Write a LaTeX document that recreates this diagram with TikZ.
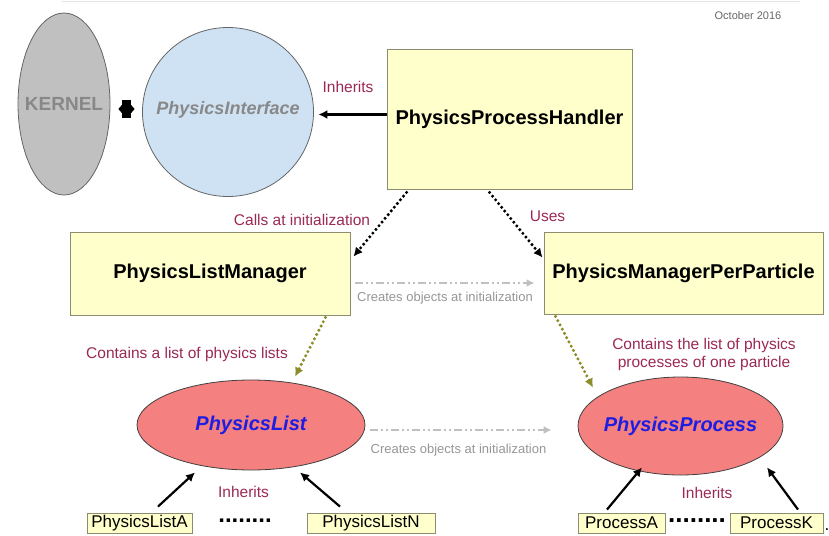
\documentclass[tikz,border=0pt]{standalone}
\usepackage{fontspec}
\setmainfont{Liberation Sans}
\usetikzlibrary{shapes.geometric,arrows.meta}

\definecolor{boxfill}{RGB}{255,255,204}
\definecolor{boxline}{RGB}{140,140,110}
\definecolor{kerfill}{RGB}{192,192,192}
\definecolor{kerline}{RGB}{100,100,100}
\definecolor{ifill}{RGB}{207,226,243}
\definecolor{redfill}{RGB}{244,128,128}
\definecolor{labred}{RGB}{155,40,85}
\definecolor{clsblue}{RGB}{30,30,225}
\definecolor{greytext}{RGB}{136,136,136}
\definecolor{createtext}{RGB}{150,150,150}
\definecolor{createline}{RGB}{192,192,192}
\definecolor{olive}{RGB}{140,140,40}

\newcommand{\fsz}[1]{\fontsize{#1}{#1}\selectfont}

\tikzset{
  classbox/.style={draw=boxline, fill=boxfill, line width=0.9pt, inner sep=0pt,
    font=\fsz{20}\bfseries},
  smallbox/.style={draw=boxline, fill=boxfill, line width=0.9pt, inner sep=0pt,
    minimum height=20pt, font=\fsz{17}},
  oval/.style={ellipse, line width=0.8pt, inner sep=0pt},
  classoval/.style={oval, draw=black!75, fill=redfill},
  ovaltext/.style={inner sep=0pt},
  classtext/.style={ovaltext, text=clsblue, font=\fsz{20}\bfseries\itshape},
  relabel/.style={text=labred, font=\fsz{15.5}, inner sep=0pt},
  createlabel/.style={text=createtext, font=\fsz{13}, inner sep=0pt},
  inherit/.style={line width=2.2pt, -{Latex[length=9pt,width=9pt]}},
  dotblack/.style={line width=3.4pt, line cap=round, dash pattern=on 0pt off 4.8pt,
    black, -{Latex[length=9pt,width=9pt]}},
  dotolive/.style={line width=3.4pt, line cap=round, dash pattern=on 0pt off 4.8pt,
    olive, -{Latex[length=9pt,width=9pt]}},
  creates/.style={createline, line width=2.5pt,
    dash pattern=on 8pt off 3pt on 2pt off 3pt on 2pt off 3pt,
    -{Latex[length=8pt,width=8pt]}},
  twoway/.style={line width=18pt, line join=round,
    {Triangle[length=4pt,width=9pt]}-{Triangle[length=4pt,width=9pt]}},
  leader/.style={inner sep=0pt, anchor=base},
}

\begin{document}
\begin{tikzpicture}[x=1pt, y=-1pt]
\useasboundingbox (0,0) rectangle (829,535);

% faint rule along the top edge
\draw[black!10, line width=0.8pt] (62,1.5) -- (800,1.5);

\node[text=black!60, font=\fsz{11}, inner sep=0pt] (date) at (748,16) {October 2016};

% kernel and its interface
\node[oval, draw=kerline, fill=kerfill, minimum width=92pt, minimum height=182pt]
      (kernel) at (64,104) {};
\node[ovaltext, text=greytext, font=\fsz{19}\bfseries] (kerneltxt) at (kernel.center) {KERNEL};
\node[oval, draw=kerline, fill=ifill, minimum width=171pt, minimum height=169pt]
      (iface) at (228,112) {};
\node[ovaltext, text=greytext, font=\fsz{18}\bfseries\itshape] (ifacetxt)
      at ([yshift=2pt]iface.center) {PhysicsInterface};

% two-way link between kernel and interface
\draw[twoway] ([xshift=8pt,yshift=-5pt]kernel.east) -- ([xshift=-7.5pt,yshift=3pt]iface.west);

% managers
\node[classbox, minimum width=245pt, minimum height=140pt] (pph) at (509.5,119) {PhysicsProcessHandler};
\node[classbox, minimum width=280pt, minimum height=83pt] (plm) at (210,273.5) {PhysicsListManager};
\node[classbox, minimum width=279pt, minimum height=82pt] (pmpp) at (683.5,273) {PhysicsManagerPerParticle};

% base classes
\node[classoval, minimum width=228pt, minimum height=90pt] (plist) at (251,425) {};
\node[classtext] (plisttxt) at (plist.center) {PhysicsList};
\node[classoval, minimum width=205pt, minimum height=98pt] (pproc) at (680.5,426) {};
\node[classtext] (pproctxt) at (pproc.center) {PhysicsProcess};

% concrete classes
\node[smallbox, minimum width=105pt] (plA) at (139.5,523) {PhysicsListA};
\node[smallbox, minimum width=128pt] (plN) at (371,523) {PhysicsListN};
\node[smallbox, minimum width=87pt]  (prA) at (621.5,523) {ProcessA};
\node[smallbox, minimum width=93pt]  (prK) at (776.5,523) {ProcessK};
\node[inner sep=0pt, anchor=base, font=\fsz{17}] (stop) at (827,530) {.};

\node[leader, font=\fsz{24}\bfseries] (dotsL) at (245,522) {........};
\node[leader, font=\fsz{26}\bfseries] (dotsR) at (697,522) {........};

% inheritance of the handler
\draw[inherit] ([yshift=4.5pt]pph.west) -- ([xshift=4.5pt,yshift=-2.5pt]iface.east);
\node[relabel] (inhTop) at (348,87) {Inherits};

% handler to managers
\draw[dotblack] ([xshift=20pt,yshift=-3pt]pph.south west) -- ([xshift=3pt,yshift=-25pt]plm.north east);
\node[relabel] (calls) at (302,220) {Calls at initialization};
\draw[dotblack] ([xshift=103pt,yshift=-3pt]pph.south west) -- ([xshift=-1pt,yshift=-26pt]pmpp.north west);
\node[relabel] (uses) at (547.5,216) {Uses};

% manager creates manager
\draw[creates] ([xshift=5pt,yshift=-9.5pt]plm.east) -- ([xshift=-9pt,yshift=-10pt]pmpp.west);
\node[createlabel] (cr1) at (445,298) {Creates objects at initialization};

% managers contain base classes
\draw[dotolive] ([xshift=-25pt,yshift=-2pt]plm.south east) -- ([xshift=44pt,yshift=3pt]plist.north);
\node[relabel] (cont1) at (187,354) {Contains a list of physics lists};
\draw[dotolive] ([xshift=12pt,yshift=-2pt]pmpp.south west) -- ([xshift=-87.5pt,yshift=-11pt]pproc.north);
\node[relabel, align=center] (cont2) at (704,354)
  {Contains the list of physics\\[2.5pt]processes of one particle};

% base class creates base class
\draw[creates] ([xshift=5pt,yshift=-5pt]plist.east) -- ([xshift=-26pt,yshift=-4pt]pproc.west);
\node[createlabel] (cr2) at (458.5,450) {Creates objects at initialization};

% inheritance of concrete classes
\draw[inherit] ([xshift=18.5pt,yshift=6pt]plA.north) -- ([xshift=-56pt,yshift=-2pt]plist.south);
\draw[inherit] ([xshift=-31pt,yshift=6pt]plN.north) -- ([xshift=49pt,yshift=-2pt]plist.south);
\node[relabel] (inhL) at (243.5,492) {Inherits};
\draw[inherit] ([xshift=-14.5pt,yshift=3pt]prA.north) -- ([xshift=-38.5pt,yshift=8pt]pproc.south);
\draw[inherit] ([xshift=21.5pt,yshift=3pt]prK.north) -- ([xshift=86.5pt,yshift=8pt]pproc.south);
\node[relabel] (inhR) at (707,493) {Inherits};
\end{tikzpicture}
\end{document}
